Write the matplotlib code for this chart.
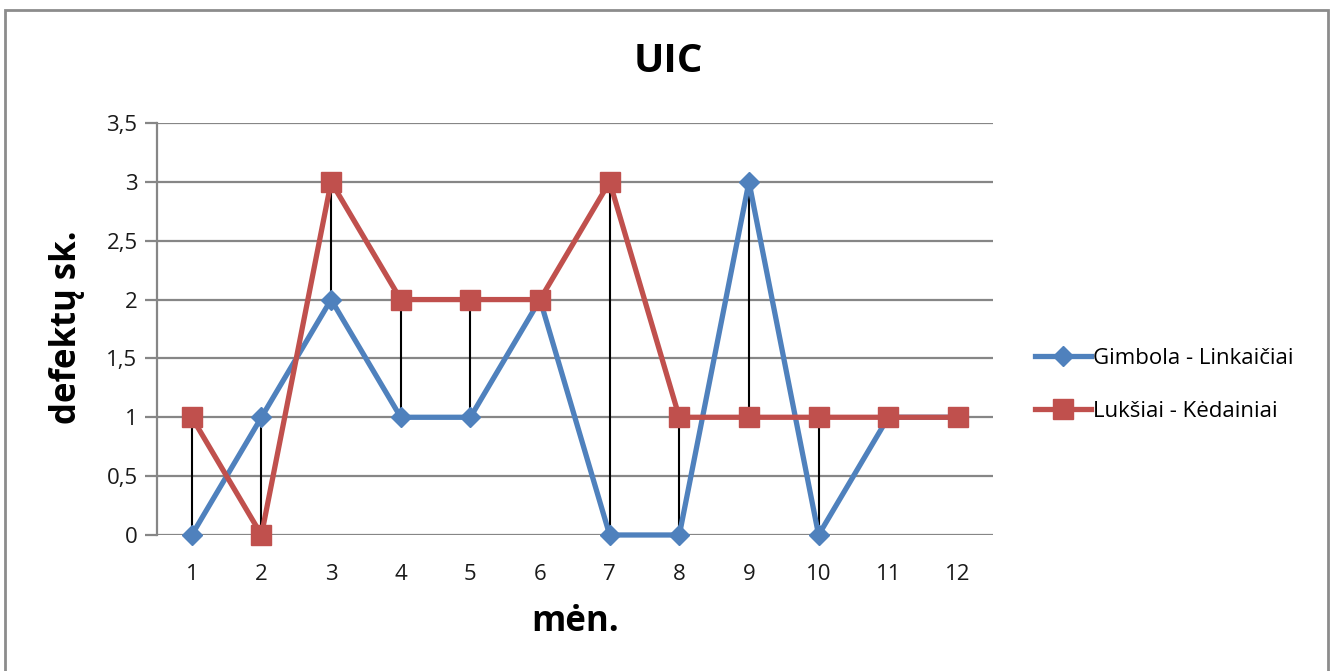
import matplotlib.pyplot as plt
from matplotlib.patches import Rectangle

months = list(range(1, 13))
gimbola = [0, 1, 2, 1, 1, 2, 0, 0, 3, 0, 1, 1]
luksiai = [1, 0, 3, 2, 2, 2, 3, 1, 1, 1, 1, 1]
y_ticks = [0, 0.5, 1, 1.5, 2, 2.5, 3, 3.5]
y_tick_labels = ["0", "0,5", "1", "1,5", "2", "2,5", "3", "3,5"]

plt.rcParams["font.family"] = ["Open Sans", "DejaVu Sans"]

W, H = 1335, 671
fig = plt.figure(figsize=(W / 100, H / 100), dpi=100)
ax = fig.add_axes([0.1176, 0.2027, 0.626, 0.614])

# chart frame around the whole figure
fig.patches.append(Rectangle((5 / W, -0.1), 1323 / W, 0.1 + 661 / H,
                             transform=fig.transFigure, fill=False,
                             edgecolor="#8c8c8c", linewidth=2))

# high-low lines between the two series
for m, a, b in zip(months, gimbola, luksiai):
    if a != b:
        ax.plot([m, m], [min(a, b), max(a, b)], color="black", linewidth=1.5, zorder=2)

ax.plot(months, gimbola, color="#4F81BD", linewidth=3.8, marker="D",
        markersize=10, label="Gimbola - Linkaičiai", zorder=3)
ax.plot(months, luksiai, color="#C0504D", linewidth=3.8, marker="s",
        markersize=15, label="Lukšiai - Kėdainiai", zorder=4)

ax.set_xlim(0.5, 12.5)
ax.set_ylim(0, 3.5)
ax.set_xticks(months)
ax.set_yticks(y_ticks)
ax.set_yticklabels(y_tick_labels)
ax.yaxis.grid(True, color="#868686", linewidth=1.6)
ax.set_axisbelow(True)
for s in ["top", "right", "bottom"]:
    ax.spines[s].set_visible(False)
ax.spines["left"].set_color("#868686")
ax.spines["left"].set_linewidth(1.6)
ax.tick_params(axis="y", length=9, width=1.6, color="#868686", labelsize=16,
               labelcolor="#1a1a1a", pad=5)
ax.tick_params(axis="x", length=0, labelsize=16, labelcolor="#1a1a1a", pad=21)
for line in ax.lines:
    line.set_clip_on(False)

fig.text(668 / W, 1 - 61 / H, "UIC", fontsize=29, fontweight="bold",
         ha="center", va="center")
fig.text(67 / W, 1 - 327 / H, "defektų sk.", fontsize=25, fontweight="bold",
         rotation=90, ha="center", va="center")
fig.text(575 / W, 1 - 622 / H, "mėn.", fontsize=25, fontweight="bold",
         ha="center", va="center")

ax.legend(loc="center left", bbox_to_anchor=(1.027, 0.364), frameon=False,
          fontsize=16, handlelength=2.5, handletextpad=0.1, labelspacing=1.45)

fig.savefig("out.png", dpi=100)
